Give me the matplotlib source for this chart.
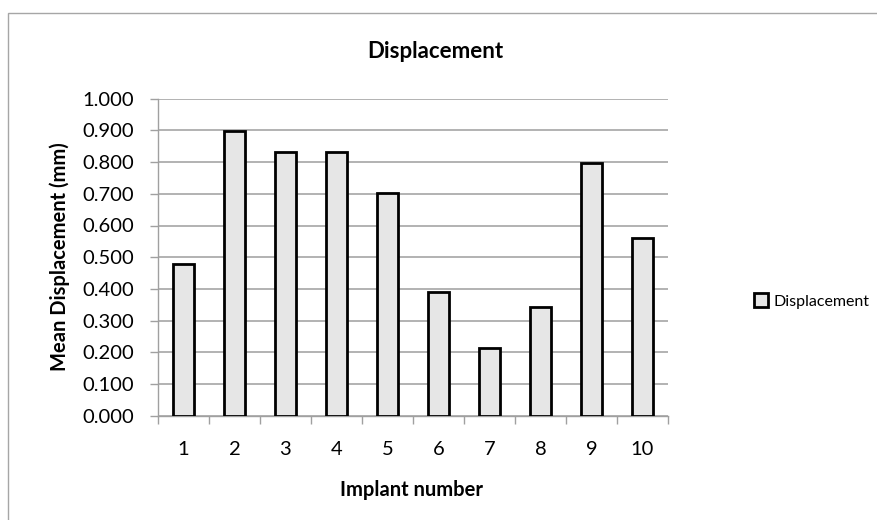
import matplotlib
matplotlib.use("Agg")
import matplotlib.pyplot as plt
from matplotlib.patches import Rectangle
import numpy as np

plt.rcParams['font.family'] = ['Lato', 'DejaVu Sans']

implants = ['1', '2', '3', '4', '5', '6', '7', '8', '9', '10']
displacement = [0.478, 0.899, 0.831, 0.831, 0.703, 0.391, 0.212, 0.342, 0.796, 0.561]
yticks = [0.0, 0.1, 0.2, 0.3, 0.4, 0.5, 0.6, 0.7, 0.8, 0.9, 1.0]

W, H = 878, 520
fig = plt.figure(figsize=(W/100, H/100), dpi=100)

# chart area border
fig.patches.append(Rectangle((8/W, -0.1), 1.2, 1 - 13/H + 0.1, transform=fig.transFigure,
                             fill=False, edgecolor='#a6a6a6', linewidth=1.0))

ax = fig.add_axes([158/W, 1 - 415.7/H, (668-158)/W, (415.7-98.7)/H])
x = np.arange(len(implants))
ax.bar(x, displacement, width=0.4, color='#e6e6e6', edgecolor='black', linewidth=2.0,
       label='Displacement', zorder=3)

ax.set_xlim(-0.5, len(implants) - 0.5)
ax.set_ylim(0, 1.0)
ax.set_yticks(yticks)
ax.set_yticklabels([f"{v:.3f}" for v in yticks], fontsize=14.5)
ax.set_xticks(x)
ax.set_xticklabels(implants, fontsize=14.5)
ax.tick_params(axis='x', length=0, pad=18)
ax.set_xticks(np.arange(-0.5, len(implants)), minor=True)
ax.tick_params(axis='x', which='minor', length=6, color='#a0a0a0', width=1)
ax.tick_params(axis='y', length=6, color='#a0a0a0', width=1, pad=11)

ax.grid(axis='y', color='#a6a6a6', linewidth=1.2, zorder=0)
for s in ['top', 'right']:
    ax.spines[s].set_visible(False)
for s in ['left', 'bottom']:
    ax.spines[s].set_color('#a0a0a0')
    ax.spines[s].set_linewidth(1.0)

fig.text(435/W, 1 - 52/H, 'Displacement', fontsize=16, fontweight='bold',
         ha='center', va='center')
fig.text(60/W, 1 - 257/H, 'Mean Displacement (mm)', fontsize=14.5, fontweight='bold',
         ha='center', va='center', rotation=90)
fig.text(412/W, 1 - 490/H, 'Implant number', fontsize=14.5, fontweight='bold',
         ha='center', va='center')

leg = fig.legend(loc='center left', bbox_to_anchor=(754/W, 1 - 301/H), frameon=False,
                 fontsize=11.5, handlelength=0.9, handleheight=0.9, handletextpad=0.3,
                 borderpad=0, borderaxespad=0)

fig.savefig('out.png', dpi=100)
